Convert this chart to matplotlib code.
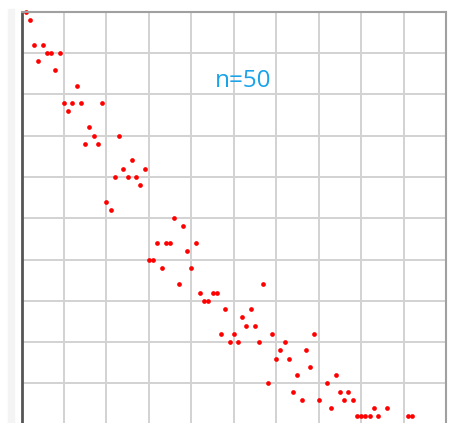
import matplotlib.pyplot as plt

# sample index (x) and count (y)
xs = [1, 2, 3, 4, 5, 6, 7, 8, 9, 10,
      11, 12, 13, 14, 15, 16, 17, 18, 19, 20,
      21, 22, 23, 24, 25, 26, 27, 28, 29, 30,
      31, 32, 33, 34, 35, 36, 37, 38, 39, 40,
      41, 42, 43, 44, 45, 46, 47, 48, 49, 50,
      51, 52, 53, 54, 55, 56, 57, 58, 59, 60,
      61, 62, 63, 64, 65, 66, 67, 68, 69, 70,
      72, 73, 74, 75, 76, 77, 78, 79, 80, 81,
      82, 83, 84, 86, 91, 92]
ys = [50, 49, 46, 44, 46, 45, 45, 43, 45, 39,
      38, 39, 41, 39, 34, 36, 35, 34, 39, 27,
      26, 30, 35, 31, 30, 32, 30, 29, 31, 20,
      20, 22, 19, 22, 22, 25, 17, 24, 21, 19,
      22, 16, 15, 15, 16, 16, 11, 14, 10, 11,
      10, 13, 12, 14, 12, 10, 17, 5, 11, 8,
      9, 10, 8, 4, 6, 3, 9, 7, 11, 3,
      5, 2, 6, 4, 3, 4, 3, 1, 1, 1,
      1, 2, 1, 2, 1, 1]
label = 'n=50'

fig = plt.figure(figsize=(4.53, 4.23), dpi=100)
# faint strip at the far left of the picture
fig.patches.append(plt.Rectangle((8 / 453, 0), 6 / 453, 414 / 423,
                                 transform=fig.transFigure, color='#f4f4f4', zorder=0))

ax = fig.add_axes([21.5 / 453, -1.5 / 423, 424.5 / 453, 412.5 / 423])
ax.set_xlim(0, 100)
ax.set_ylim(0, 50)
ax.set_xticks(range(0, 101, 10))
ax.set_yticks(range(0, 51, 5))
ax.tick_params(length=0, labelleft=False, labelbottom=False)
ax.grid(color='#d2d2d2', linewidth=1.4)
ax.set_axisbelow(True)

ax.plot(xs, ys, 'o', color='#ff0000', markersize=3.4, markeredgewidth=0, clip_on=False)

for side in ['top', 'right', 'bottom']:
    ax.spines[side].set_color('#a0a0a0')
    ax.spines[side].set_linewidth(1.5)
ax.spines['left'].set_color('#555555')
ax.spines['left'].set_linewidth(2)

fig.text(243 / 453, 1 - 81 / 423, label, color='#1aa3e8', fontsize=17.5,
         family='Open Sans', ha='center', va='center')

fig.savefig('out.png', dpi=100)
